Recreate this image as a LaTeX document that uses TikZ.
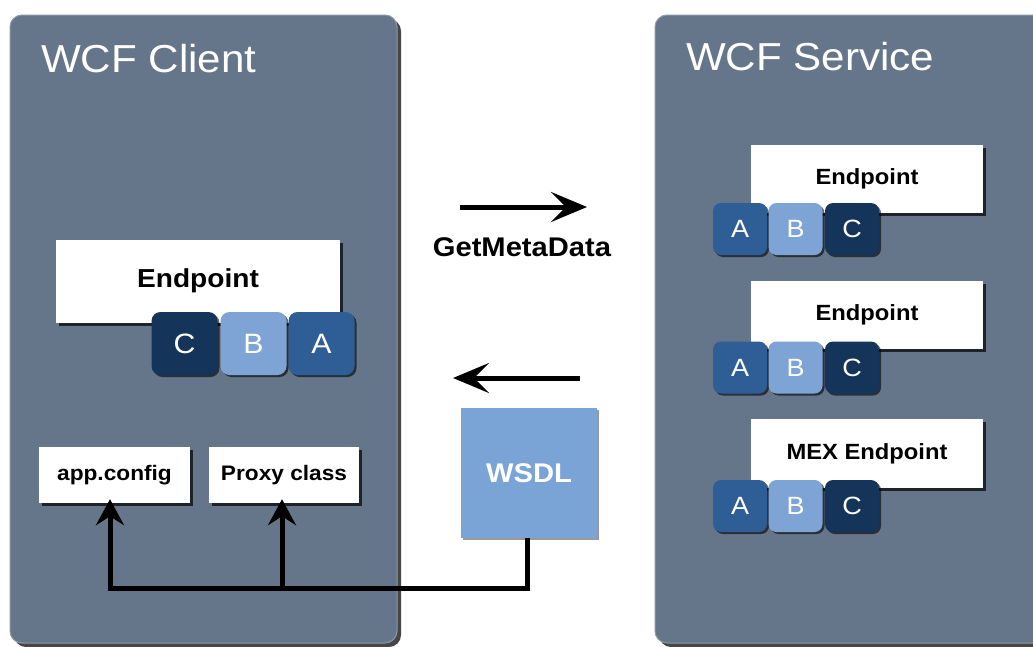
\documentclass[tikz,border=0pt]{standalone}
\usepackage{fontspec}
\setmainfont{Liberation Sans}[FakeStretch=1.08]
\usetikzlibrary{arrows.meta,shadows}
\definecolor{panel}{HTML}{66768A}
\definecolor{panelrim}{HTML}{8A98A8}
\definecolor{blkA}{HTML}{2F5E97}
\definecolor{blkB}{HTML}{7DA4D4}
\definecolor{blkC}{HTML}{14345A}
\definecolor{wsdlc}{HTML}{7AA3D6}
\tikzset{
  panelbox/.style={draw=panelrim, line width=1pt, fill=panel, rounded corners=12pt, inner sep=0pt,
    drop shadow={shadow xshift=4pt, shadow yshift=-4pt, fill=black!85, opacity=.85}},
  title/.style={text=white, font=\fontsize{39}{40}\selectfont, inner sep=0pt},
  wbox/.style={fill=white, inner sep=0pt,
    drop shadow={shadow xshift=3pt, shadow yshift=-3pt, fill=black, opacity=.7}},
  lbl/.style={inner sep=0pt, font=\bfseries\fontsize{#1}{#1}\selectfont},
  blockL/.style={minimum width=66pt, minimum height=63pt, rounded corners=9pt, inner sep=0pt,
    text=white, font=\fontsize{28}{28}\selectfont,
    drop shadow={shadow xshift=2pt, shadow yshift=-2pt, fill=black, opacity=.6}},
  blockR/.style={minimum width=54pt, minimum height=52pt, rounded corners=8pt, inner sep=0pt,
    text=white, font=\fontsize{25}{25}\selectfont,
    drop shadow={shadow xshift=2pt, shadow yshift=-2pt, fill=black, opacity=.6}},
  wire/.style={line width=5pt, draw=black, miter limit=10},
  uptip/.style={-{Stealth[length=26pt, width=28pt, inset=9pt]}},
  sidetip/.style={-{Stealth[length=36pt, width=30pt, inset=15pt]}},
}
\begin{document}
\begin{tikzpicture}[x=1pt,y=-1pt]
\useasboundingbox (0,0) rectangle (1033,646);
\clip (0,0) rectangle (1033,646);
\fill[white] (0,0) rectangle (1033,646);

% panels
\node[panelbox, minimum width=387pt, minimum height=628pt] (client) at (203.5,329) {};
\node[panelbox, minimum width=400pt, minimum height=628pt] (service) at (855,329) {};
\node[title, anchor=base west] (clientT) at (41,72) {WCF Client};
\node[title, anchor=base west] (serviceT) at (686,70) {WCF Service};

% client endpoint
\node[wbox, minimum width=284pt, minimum height=83pt] (cep) at (198,281.5) {};
\node[lbl=26, anchor=base] (cepT) at (198,287) {Endpoint};
\node[blockL, fill=blkC] (cC) at (184.5,343.5) {C};
\node[blockL, fill=blkB] (cB) at (253.5,343.5) {B};
\node[blockL, fill=blkA] (cA) at (321.5,343.5) {A};

% service endpoints
\node[wbox, minimum width=232pt, minimum height=68pt] (ep1) at (867,179) {};
\node[lbl=22, anchor=base] (ep1T) at (867,184) {Endpoint};
\node[blockR, fill=blkA] (e1A) at (740,229) {A};
\node[blockR, fill=blkB] (e1B) at (795.5,229) {B};
\node[blockR, fill=blkC] (e1C) at (852,229) {C};

\node[wbox, minimum width=232pt, minimum height=68pt] (ep2) at (867,315) {};
\node[lbl=22, anchor=base] (ep2T) at (867,320) {Endpoint};
\node[blockR, fill=blkA] (e2A) at (740,367.5) {A};
\node[blockR, fill=blkB] (e2B) at (795.5,367.5) {B};
\node[blockR, fill=blkC] (e2C) at (852,367.5) {C};

\node[wbox, minimum width=232pt, minimum height=69pt] (ep3) at (867,453.5) {};
\node[lbl=22, anchor=base] (ep3T) at (867,459) {MEX Endpoint};
\node[blockR, fill=blkA] (e3A) at (740,506) {A};
\node[blockR, fill=blkB] (e3B) at (795.5,506) {B};
\node[blockR, fill=blkC] (e3C) at (852,506) {C};

% client files
\node[wbox, lbl=21, minimum width=151pt, minimum height=56pt] (app) at (114.5,475) {app.config};
\node[wbox, lbl=21, minimum width=150pt, minimum height=56pt] (proxy) at (284,475) {Proxy class};

% WSDL
\node[fill=wsdlc, inner sep=0pt, minimum width=136pt, minimum height=130pt,
  text=white, font=\bfseries\fontsize{27}{27}\selectfont,
  drop shadow={shadow xshift=2pt, shadow yshift=-2pt, fill=black, opacity=.4}] (wsdl) at (529,473) {WSDL};

% message arrows
\coordinate (gmS) at (460,207);
\coordinate (gmE) at (587,207);
\draw[wire, sidetip] (gmS) -- (gmE);
\node[lbl=27] (gmT) at (522,247) {GetMetaData};
\coordinate (rtS) at (580,378);
\coordinate (rtE) at (453,378);
\draw[wire, sidetip] (rtS) -- (rtE);

% wiring from WSDL
\coordinate (bus) at (0,588);
\draw[wire, uptip, shorten >=-4pt] ([xshift=-2pt]wsdl.south) |- ([xshift=-4.5pt]app.south |- bus) -- ([xshift=-4.5pt]app.south);
\draw[wire, uptip, shorten >=-4pt] ([xshift=-2pt]proxy.south |- bus) -- ([xshift=-2pt]proxy.south);
\end{tikzpicture}
\end{document}
